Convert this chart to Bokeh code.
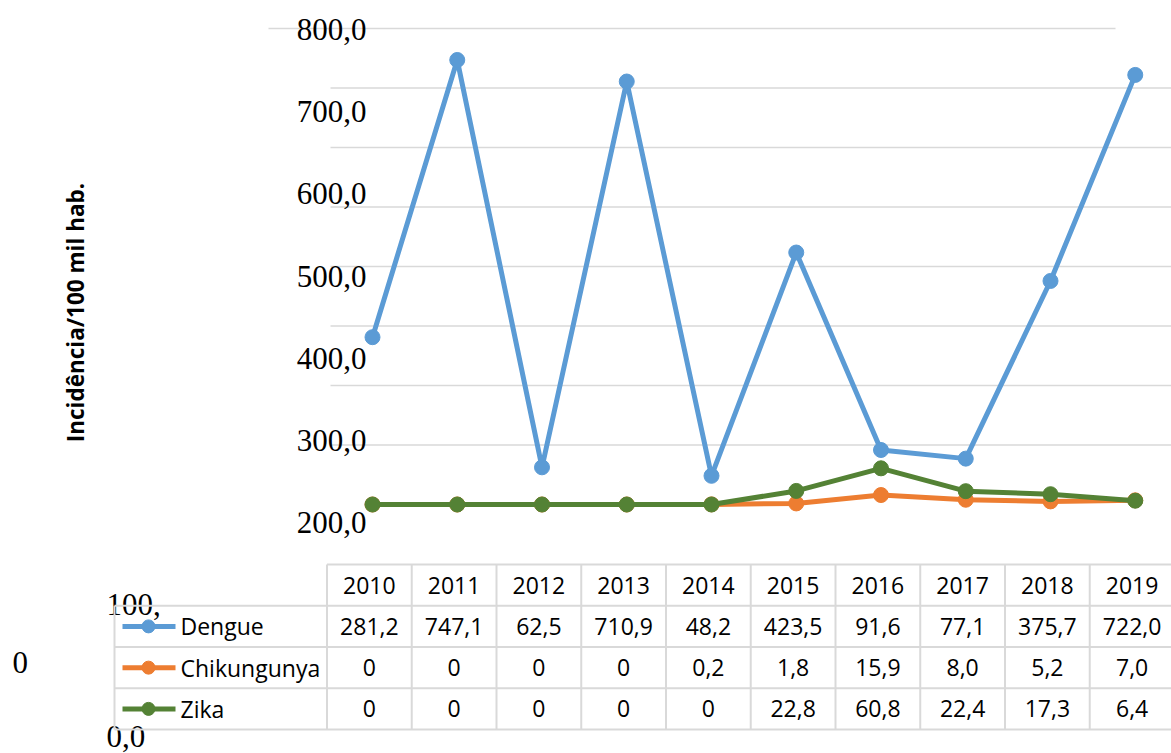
import math
from bokeh.plotting import figure
from bokeh.models import Range1d
from bokeh.core.properties import value
from bokeh.embed import file_html
from bokeh.resources import INLINE

# ---------------- data ----------------
years = [2010, 2011, 2012, 2013, 2014, 2015, 2016, 2017, 2018, 2019]
dengue = [281.2, 747.1, 62.5, 710.9, 48.2, 423.5, 91.6, 77.1, 375.7, 722.0]
chikungunya = [0, 0, 0, 0, 0.2, 1.8, 15.9, 8.0, 5.2, 7.0]
zika = [0, 0, 0, 0, 0, 22.8, 60.8, 22.4, 17.3, 6.4]
series_names = ["Dengue", "Chikungunya", "Zika"]
series_colors = ["#5B9BD5", "#ED7D31", "#548235"]
tick_labels = ["800,0", "700,0", "600,0", "500,0", "400,0", "300,0", "200,0"]
stray_labels = ["100,", "0", "0,0"]
grid_values = [100, 200, 300, 400, 500, 600, 700, 800]
y_title = "Incidência/100 mil hab."

# ---------------- layout helpers ----------------
W, H = 1171, 753
CX0, PPX = 372.0, 84.75     # canvas x of first year, px per year
CY0, PPY = 504.0, 0.595     # canvas y of value 0, px per unit

def dx(cx):
    return years[0] + (cx - CX0) / PPX

def dy(cy):
    return (CY0 - cy) / PPY

def fmt(v):
    return "0" if v == 0 else f"{v:.1f}".replace(".", ",")

p = figure(width=W, height=H, output_backend="svg", toolbar_location=None,
           x_axis_type=None, y_axis_type=None, min_border=0,
           x_range=Range1d(dx(0), dx(W)), y_range=Range1d(dy(H), dy(0)))
p.outline_line_color = None
p.background_fill_color = "white"
p.border_fill_color = "white"
GRID = "#D9D9D9"

# ---------------- gridlines ----------------
for g in grid_values:
    if g == grid_values[-1]:
        x0, x1 = dx(268), dx(1115)
    else:
        x0, x1 = dx(330), dx(W + 5)
    p.segment(x0=[x0], y0=[g], x1=[x1], y1=[g], line_color=GRID, line_width=1.5)

# ---------------- y tick labels (misplaced as in the original) ----------------
lab_y = [dy(29 + 82.2 * i) for i in range(len(tick_labels))]
p.text(x=[dx(366)] * len(tick_labels), y=lab_y, text=tick_labels,
       text_font=value("Liberation Serif"), text_font_size=value("31px"),
       text_align="right", text_baseline="middle", text_color="black")
p.text(x=[dx(106), dx(12), dx(106)], y=[dy(29 + 82.2 * 7), dy(662), dy(736)], text=stray_labels,
       text_font=value("Liberation Serif"), text_font_size=value("31px"),
       text_align="left", text_baseline="middle", text_color="black")

# ---------------- axis title ----------------
p.text(x=[dx(75)], y=[dy(312)], text=[y_title], angle=math.pi / 2,
       text_font=value("Open Sans"), text_font_size=value("22.5px"), text_font_style="bold",
       text_align="center", text_baseline="middle", text_color="black")

# ---------------- series ----------------
all_series = [dengue, chikungunya, zika]
for vals, col in zip(all_series, series_colors):
    p.line(years, vals, line_color=col, line_width=5, line_join="round")
    p.scatter(years, vals, size=15, fill_color=col, line_color=col)

# ---------------- data table ----------------
ROW0, ROWH = 564.0, 41.25
row_edges = [dy(ROW0 + ROWH * i) for i in range(5)]
row_mid = [dy(ROW0 + ROWH * (i + 0.5)) for i in range(4)]
SHIFT = -0.037
col_left = [y - 0.5 + SHIFT for y in years]
col_right_end = years[-1] + 0.5 + SHIFT
legend_left = dx(114)

# horizontal lines
p.segment(x0=[col_left[0]], y0=[row_edges[0]], x1=[col_right_end], y1=[row_edges[0]],
          line_color=GRID, line_width=2)
p.segment(x0=[legend_left] * 4, y0=row_edges[1:], x1=[col_right_end] * 4, y1=row_edges[1:],
          line_color=GRID, line_width=2)
# vertical lines
vx = col_left + [col_right_end]
p.segment(x0=vx, y0=[row_edges[0]] * len(vx), x1=vx, y1=[row_edges[4]] * len(vx),
          line_color=GRID, line_width=2)
p.segment(x0=[legend_left], y0=[row_edges[1]], x1=[legend_left], y1=[row_edges[4]],
          line_color=GRID, line_width=2)

TFONT = value("Open Sans")
TSIZE = value("23px")
cx = [y + SHIFT for y in years]
p.text(x=cx, y=[row_mid[0]] * len(years), text=[str(y) for y in years],
       text_font=TFONT, text_font_size=TSIZE, text_align="center",
       text_baseline="middle", text_color="black")
for r, (vals, name, col) in enumerate(zip(all_series, series_names, series_colors), start=1):
    p.text(x=cx, y=[row_mid[r]] * len(years), text=[fmt(v) for v in vals],
           text_font=TFONT, text_font_size=TSIZE, text_align="center",
           text_baseline="middle", text_color="black")
    # legend key
    p.segment(x0=[dx(122)], y0=[row_mid[r]], x1=[dx(175)], y1=[row_mid[r]],
              line_color=col, line_width=5)
    p.scatter([dx(148)], [row_mid[r]], size=13, fill_color=col, line_color=col)
    p.text(x=[dx(180)], y=[row_mid[r]], text=[name],
           text_font=TFONT, text_font_size=TSIZE, text_align="left",
           text_baseline="middle", text_color="black")

open("out.html", "w").write(file_html(p, INLINE))
